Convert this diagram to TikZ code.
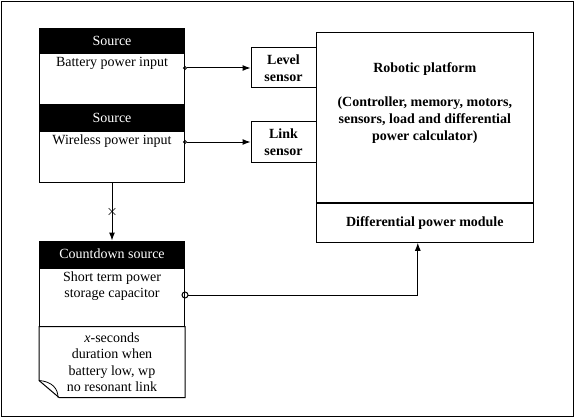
\documentclass[tikz,border=0pt]{standalone}
\usepackage{fontspec}
\setmainfont{Liberation Serif}
\usepackage{tikz}
\usetikzlibrary{arrows.meta,calc,positioning,shapes.misc}
\tikzset{
plan/.style={x=1pt,y=-1pt,line width=1pt,font=\fontsize{14}{16.5}\selectfont},
head/.style={draw,fill=black,text=white,minimum width=145pt,minimum height=#1,inner sep=0pt},
head/.default={24pt},
body/.style={draw,minimum width=145pt,minimum height=#1,inner sep=0pt},
sensor/.style={draw,align=center,font=\fontsize{14}{16.5}\selectfont\bfseries,
minimum width=65pt,minimum height=40pt,inner sep=0pt},
feed/.style={{Circle[open,length=#1,width=#1]}-{Latex[length=8pt,width=6pt]},shorten <=-2pt},
feed/.default={4pt},
cut/.style={cross out,draw,line width=0.6pt,minimum size=6pt,inner sep=0pt},
}
\begin{document}
\begin{tikzpicture}[plan]
\useasboundingbox (0,0) rectangle (575,417);
\draw[line width=0.8pt] (1,1) rectangle (573.5,416);
% sources
\node[head] (bathead) at (112,41) {Source};
\node[body=51pt,below=0pt of bathead] (bat) {};
\node[anchor=north] (battext) at (bat.north) {Battery power input};
\node[head,below=0pt of bat] (wphead) {Source};
\node[body=51pt,below=0pt of wphead] (wp) {};
\node[anchor=north] (wptext) at (wp.north) {Wireless power input};
% countdown source and note
\node[head=26pt] (cdhead) at (112,254) {Countdown source};
\node[body=58pt,below=0pt of cdhead] (cap) {};
\node[anchor=north,align=center] (captext) at (cap.north) {Short term power\\storage capacitor};
\node[minimum width=145pt,minimum height=70pt,inner sep=0pt,align=center,below=0pt of cap] (memo)
  {\textit{x}-seconds\\duration when\\battery low, wp\\no resonant link};
\draw (memo.north west) -- (memo.north east) -- (memo.south east)
  -- ($(memo.south west)+(20,0)$) -- ($(memo.south west)+(0,-17)$) -- cycle;
\draw[line width=0.8pt] ($(memo.south west)+(0,-17)$) .. controls +(13,1) and +(0,-9) .. ($(memo.south west)+(19,0)$);
% sensors and platform
\node[sensor] (level) at (283.5,68) {Level\\sensor};
\node[sensor] (link) at (283.5,142) {Link\\sensor};
\node[draw,minimum width=217pt,minimum height=170pt] (robot) at (424.8,117.3) {};
\node[align=center,font=\fontsize{14}{17}\selectfont\bfseries] (robottext) at (424.8,103.5)
  {Robotic platform\\[17pt](Controller, memory, motors,\\sensors, load and differential\\power calculator)};
\node[draw,minimum width=217pt,minimum height=39pt,font=\fontsize{14}{16.5}\selectfont\bfseries,
  below=0pt of robot] (module) {Differential power module};
% connectors
\draw[feed] (bat.east |- level.west) -- (level.west);
\draw[feed] (wp.east |- link.west) -- (link.west);
\draw[-{Latex[length=8pt,width=6pt]}] (wp.south) -- node[cut] (mark) {} (cdhead.north);
\draw[feed=7pt,shorten <=-3.5pt] ([yshift=2pt]cap.east) -| ([xshift=-7pt]module.south);
\end{tikzpicture}
\end{document}
